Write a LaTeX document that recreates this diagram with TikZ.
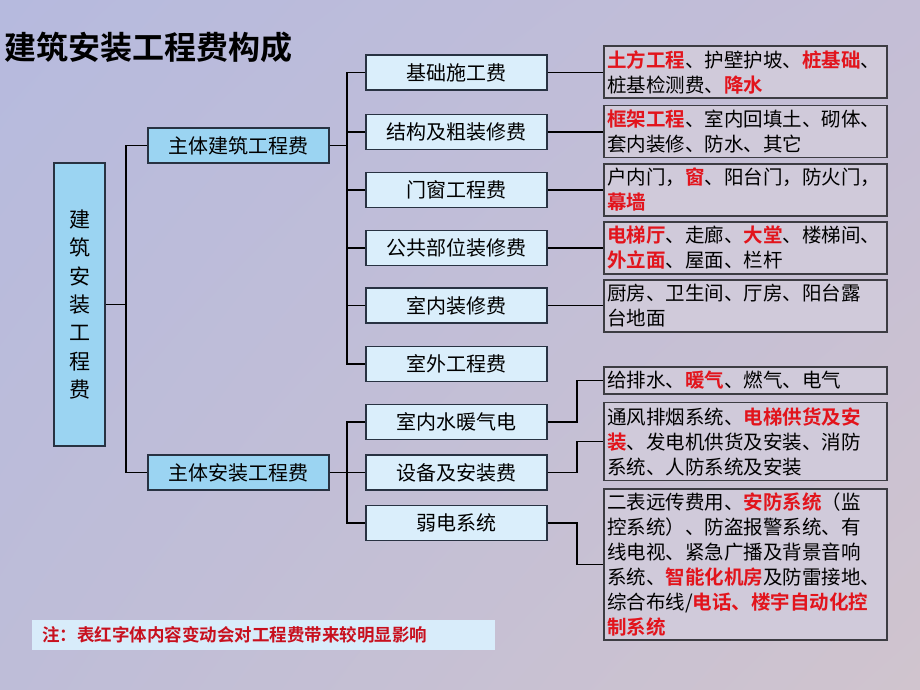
\documentclass[tikz,border=0pt]{standalone}
\usepackage{fontspec}
\setmainfont{Noto Sans CJK SC}[BoldFont={Noto Sans CJK SC Bold}]
\usepackage{color}
\usetikzlibrary{shadings}

\definecolor{bgtl}{RGB}{182,186,222}
\definecolor{bgtr}{RGB}{196,190,214}
\definecolor{bgbl}{RGB}{190,189,216}
\definecolor{bgbr}{RGB}{208,196,206}
\definecolor{boxline}{RGB}{40,50,66}
\definecolor{grayline}{RGB}{60,60,66}
\definecolor{skyfill}{RGB}{155,212,242}
\definecolor{palefill}{RGB}{218,238,251}
\definecolor{l3fill}{RGB}{208,202,218}
\definecolor{notefill}{RGB}{216,236,250}
\definecolor{hired}{RGB}{226,20,28}
\definecolor{notered}{RGB}{200,16,30}

\newcommand{\redbf}[1]{\textcolor{hired}{\bfseries #1}}

\begin{document}
\begin{tikzpicture}[%
      x=1pt, y=-1pt,
      bluebox/.style={draw=boxline, line width=1.2pt, fill=skyfill, inner sep=0pt},
      l1box/.style={bluebox, minimum width=181pt, minimum height=35pt,
        font=\fontsize{20}{24}\selectfont},
      l2box/.style={l1box, fill=palefill},
      l3box/.style={draw=grayline, line width=1.2pt, fill=l3fill, text width=277pt,
        inner xsep=3pt, inner ysep=0pt, align=left,
        font=\fontsize{19.5}{25}\selectfont},
      link/.style={draw=black, line width=1.2pt},
      ]
      \useasboundingbox (0,0) rectangle (920,690);
      \shade [upper left=bgtl, upper right=bgtr, lower left=bgbl, lower right=bgbr]
        (0,0) rectangle (920,690);

      \node [anchor=west, font=\bfseries\fontsize{32}{36}\selectfont] (title) at (1,47) {建筑安装工程费构成};

      % root and first level
      \node [bluebox, minimum width=51pt, minimum height=283pt, align=center,
        font=\fontsize{21}{28.3}\selectfont] (root) at (79.5,304.5) {建\\筑\\安\\装\\工\\程\\费};
      \node [l1box] (zjz) at (238.5,145.5) {主体建筑工程费};
      \node [l1box] (azz) at (238.5,472.5) {主体安装工程费};

      % second level
      \node [l2box] (jc) at (456.5,72.5) {基础施工费};
      \node [l2box] (jg) at (456.5,132) {结构及粗装修费};
      \node [l2box] (mc) at (456.5,190) {门窗工程费};
      \node [l2box] (gg) at (456.5,248) {公共部位装修费};
      \node [l2box] (sn) at (456.5,305.5) {室内装修费};
      \node [l2box] (sw) at (456.5,364) {室外工程费};
      \node [l2box] (sd) at (456.5,422) {室内水暖气电};
      \node [l2box] (sb) at (456.5,472.5) {设备及安装费};
      \node [l2box] (rd) at (456.5,523) {弱电系统};

      % third level
      \node [l3box, minimum height=52pt] (tf) at (745.5,72)
        {\redbf{土方工程}、护壁护坡、\redbf{桩基础}、\\桩基检测费、\redbf{降水}};
      \node [l3box, minimum height=52pt] (kj) at (745.5,131.5)
        {\redbf{框架工程}、室内回填土、砌体、\\套内装修、防水、其它};
      \node [l3box, minimum height=52pt] (hn) at (745.5,190)
        {户内门，\redbf{窗}、阳台门，防火门，\\\redbf{幕墙}};
      \node [l3box, minimum height=52pt] (dt) at (745.5,248)
        {\redbf{电梯厅}、走廊、\redbf{大堂}、楼梯间、\\\redbf{外立面}、屋面、栏杆};
      \node [l3box, minimum height=52pt] (cf) at (745.5,306)
        {厨房、卫生间、厅房、阳台露\\台地面};
      \node [l3box, minimum height=27pt] (gp) at (745.5,380.5)
        {给排水、\redbf{暖气}、燃气、电气};
      \node [l3box, minimum height=78pt] (tfx) at (745.5,441.5)
        {通风排烟系统、\redbf{电梯供货及安}\\\redbf{装}、发电机供货及安装、消防\\系统、人防系统及安装};
      \node [l3box, minimum height=151pt] (eb) at (745.5,564.5)
        {二表远传费用、\redbf{安防系统}（监\\控系统）、防盗报警系统、有\\线电视、紧急广播及背景音响\\系统、\redbf{智能化机房}及防雷接地、\\综合布线/\redbf{电话、楼宇自动化控}\\\redbf{制系统}};

      % connectors
      \coordinate (bus0) at (126,0);
      \coordinate (bus1) at (347,0);
      \coordinate (bus2) at (577,0);

      \draw [link] (root.east) -- (root.east -| bus0);
      \draw [link] (zjz.west) -| (bus0 |- azz.west) -- (azz.west);

      \draw [link] (zjz.east) -- (zjz.east -| bus1);
      \draw [link] (jc.west) -| (bus1 |- sw.west) -- (sw.west);
      \foreach \n in {jg,mc,gg,sn}
        \draw [link] (\n.west) -- (\n.west -| bus1);

      \draw [link] (azz.east) -- (sb.west);
      \draw [link] (sd.west) -| (bus1 |- rd.west) -- (rd.west);

      \foreach \a/\b in {jc/tf, jg/kj, mc/hn, gg/dt, sn/cf}
        \draw [link] (\a.east) -- (\a.east -| \b.west);
      \foreach \a/\b in {sd/gp, sb/tfx, rd/eb}
        \draw [link] (\a.east) -- (\a.east -| bus2) |- (\b.west);

      % note
      \node [anchor=west, fill=notefill, minimum height=30pt, text width=443pt,
        inner xsep=10pt, inner ysep=0pt, align=left, text=notered,
        font=\bfseries\fontsize{17.5}{20}\selectfont] (note) at (32,635)
        {注：表红字体内容变动会对工程费带来较明显影响};
\end{tikzpicture}
\end{document}
